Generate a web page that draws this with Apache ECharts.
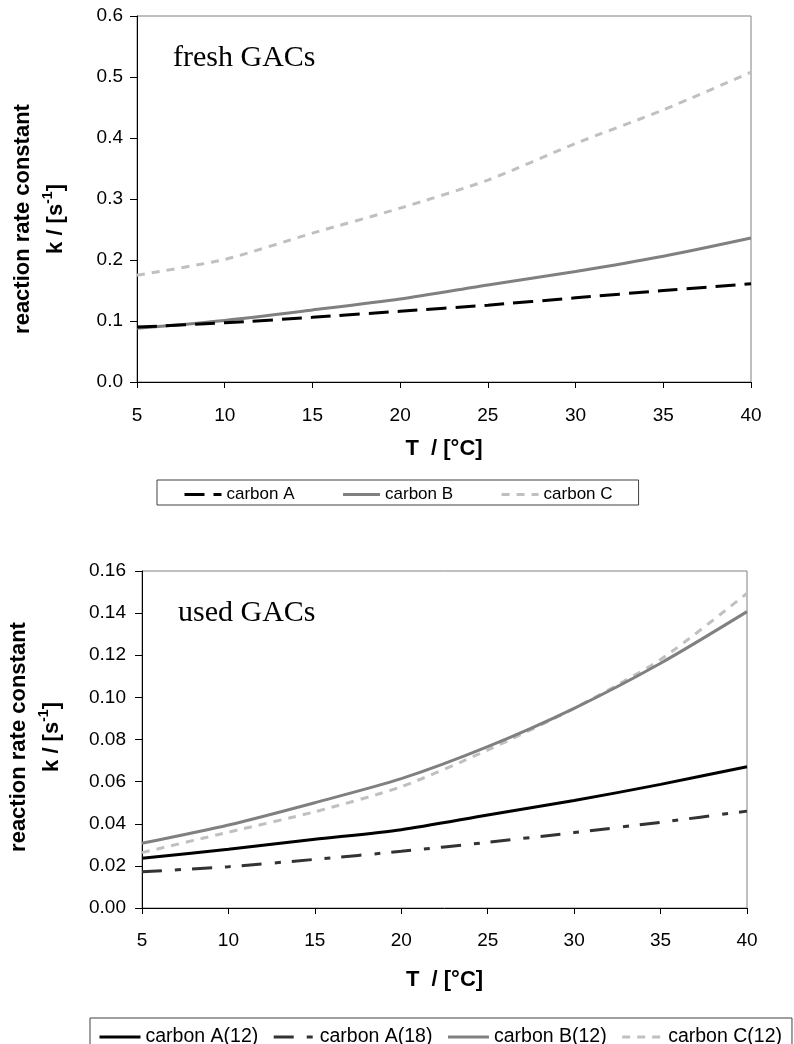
<!DOCTYPE html>
<html>
<head>
<meta charset="utf-8">
<script src="https://cdn.jsdelivr.net/npm/echarts@6/dist/echarts.min.js"></script>
<style>
  html, body { margin: 0; padding: 0; background: #fff; }
  #chart { width: 794px; height: 1044px; }
</style>
</head>
<body>
<div id="chart"></div>
<script>
// Temperature grid (°C)
const temps = [5, 10, 15, 20, 25, 30, 35, 40];

// Fresh GACs: reaction rate constant k [1/s]
const freshA = [0.090, 0.097, 0.106, 0.116, 0.126, 0.138, 0.150, 0.161];
const freshB = [0.088, 0.101, 0.118, 0.136, 0.159, 0.181, 0.206, 0.236];
const freshC = [0.175, 0.201, 0.244, 0.285, 0.331, 0.391, 0.446, 0.508];

// Used GACs: reaction rate constant k [1/s]
const usedA12 = [0.0236, 0.0279, 0.0326, 0.0372, 0.0442, 0.0510, 0.0587, 0.0671];
const usedA18 = [0.0172, 0.0196, 0.0231, 0.0269, 0.0312, 0.0358, 0.0407, 0.0460];
const usedB12 = [0.0307, 0.0394, 0.0500, 0.0614, 0.0766, 0.0948, 0.1162, 0.1407];
const usedC12 = [0.0263, 0.0360, 0.0457, 0.0576, 0.0750, 0.0948, 0.1180, 0.1494];

// Axis ticks
const xTicks = { min: 5, max: 40, interval: 5 };
const yTicksFresh = { min: 0, max: 0.6, interval: 0.1, decimals: 1 };
const yTicksUsed = { min: 0, max: 0.16, interval: 0.02, decimals: 2 };

const SANS = '"Liberation Sans", Arial, sans-serif';
const SERIF = '"Liberation Serif", "Times New Roman", serif';

const pairs = (ys) => temps.map((t, i) => [t, ys[i]]);

const lineSeries = (name, ys, idx, color, dash) => ({
  name: name,
  type: 'line',
  xAxisIndex: idx,
  yAxisIndex: idx,
  data: pairs(ys),
  smooth: 0.25,
  symbol: 'none',
  color: color,
  itemStyle: { color: color },
  lineStyle: { color: color, width: 3, type: dash },
  emphasis: { disabled: true },
  z: 3
});

const xAxisFor = (gridIndex, gap, margin) => ({
  type: 'value',
  gridIndex: gridIndex,
  min: xTicks.min, max: xTicks.max, interval: xTicks.interval,
  name: 'T  / [°C]',
  nameLocation: 'middle',
  nameGap: gap,
  nameTextStyle: { fontFamily: SANS, fontSize: 22, fontWeight: 'bold', color: '#000' },
  axisLine: { show: true, onZero: false, lineStyle: { color: '#000', width: 1 } },
  axisTick: { show: true, inside: false, length: 6, lineStyle: { color: '#000' } },
  axisLabel: { margin: margin, fontFamily: SANS, fontSize: 19, color: '#000' },
  splitLine: { show: false }
});

const yAxisFor = (gridIndex, t, margin) => ({
  type: 'value',
  gridIndex: gridIndex,
  min: t.min, max: t.max, interval: t.interval,
  axisLine: { show: true, onZero: false, lineStyle: { color: '#000', width: 1 } },
  axisTick: { show: true, inside: false, length: 7, lineStyle: { color: '#000' } },
  axisLabel: {
    margin: margin, fontFamily: SANS, fontSize: 19, color: '#000',
    formatter: (v) => v.toFixed(t.decimals)
  },
  splitLine: { show: false }
});

const yTitle = (cx, cy) => ({
  type: 'text',
  x: cx, y: cy,
  rotation: Math.PI / 2,
  style: {
    text: '{a|reaction rate constant}\n{a|k / [s}{sup|-1}{a|]}',
    align: 'center',
    verticalAlign: 'middle',
    fill: '#000',
    rich: {
      a: { fontFamily: SANS, fontSize: 22, fontWeight: 'bold', lineHeight: 33, fill: '#000' },
      sup: { fontFamily: SANS, fontSize: 14, fontWeight: 'bold', lineHeight: 33, fill: '#000', padding: [0, 0, 14, 0] }
    }
  }
});

const panelLabel = (text, x, y) => ({
  type: 'text',
  x: x, y: y,
  style: { text: text, fontFamily: SERIF, fontSize: 30, fill: '#000', align: 'left', verticalAlign: 'top' }
});

// Legend swatches show only the line pattern
const legendBase = {
  orient: 'horizontal',
  borderColor: '#404040', borderWidth: 1,
  itemStyle: { color: 'transparent', borderColor: 'transparent', borderWidth: 0 },
  lineStyle: { width: 3 }
};

const option = {
  animation: false,
  backgroundColor: '#fff',
  grid: [
    { left: 137, top: 16, width: 614, height: 366, show: true, borderColor: '#808080', borderWidth: 1, backgroundColor: 'transparent' },
    { left: 142, top: 571, width: 605, height: 337, show: true, borderColor: '#808080', borderWidth: 1, backgroundColor: 'transparent' }
  ],
  xAxis: [xAxisFor(0, 56, 24), xAxisFor(1, 61, 23)],
  yAxis: [yAxisFor(0, yTicksFresh, 14), yAxisFor(1, yTicksUsed, 16)],
  legend: [
    Object.assign({}, legendBase, {
      left: 157, top: 480,
      padding: [6, 26, 2, 26],
      itemGap: 47,
      itemWidth: 37, itemHeight: 14,
      textStyle: { fontFamily: SANS, fontSize: 17, color: '#000' },
      data: ['carbon A', 'carbon B', 'carbon C']
    }),
    Object.assign({}, legendBase, {
      left: 90, top: 1018, width: 704,
      padding: [9, 10, 2, 8],
      itemGap: 14,
      itemWidth: 41, itemHeight: 14,
      textStyle: { fontFamily: SANS, fontSize: 19.5, color: '#000' },
      data: ['carbon A(12)', 'carbon A(18)', 'carbon B(12)', 'carbon C(12)']
    })
  ],
  graphic: [
    yTitle(39, 219),
    yTitle(35, 737),
    panelLabel('fresh GACs', 173, 43),
    panelLabel('used GACs', 178, 598)
  ],
  series: [
    lineSeries('carbon C', freshC, 0, '#c0c0c0', [8, 7]),
    lineSeries('carbon B', freshB, 0, '#808080', 'solid'),
    lineSeries('carbon A', freshA, 0, '#000000', [20, 9]),
    lineSeries('carbon C(12)', usedC12, 1, '#c0c0c0', [8, 7]),
    lineSeries('carbon B(12)', usedB12, 1, '#808080', 'solid'),
    lineSeries('carbon A(18)', usedA18, 1, '#333333', [20, 13, 6, 11]),
    lineSeries('carbon A(12)', usedA12, 1, '#000000', 'solid')
  ]
};

const chart = echarts.init(document.getElementById('chart'), null, { renderer: 'canvas' });
chart.setOption(option);
</script>
</body>
</html>
